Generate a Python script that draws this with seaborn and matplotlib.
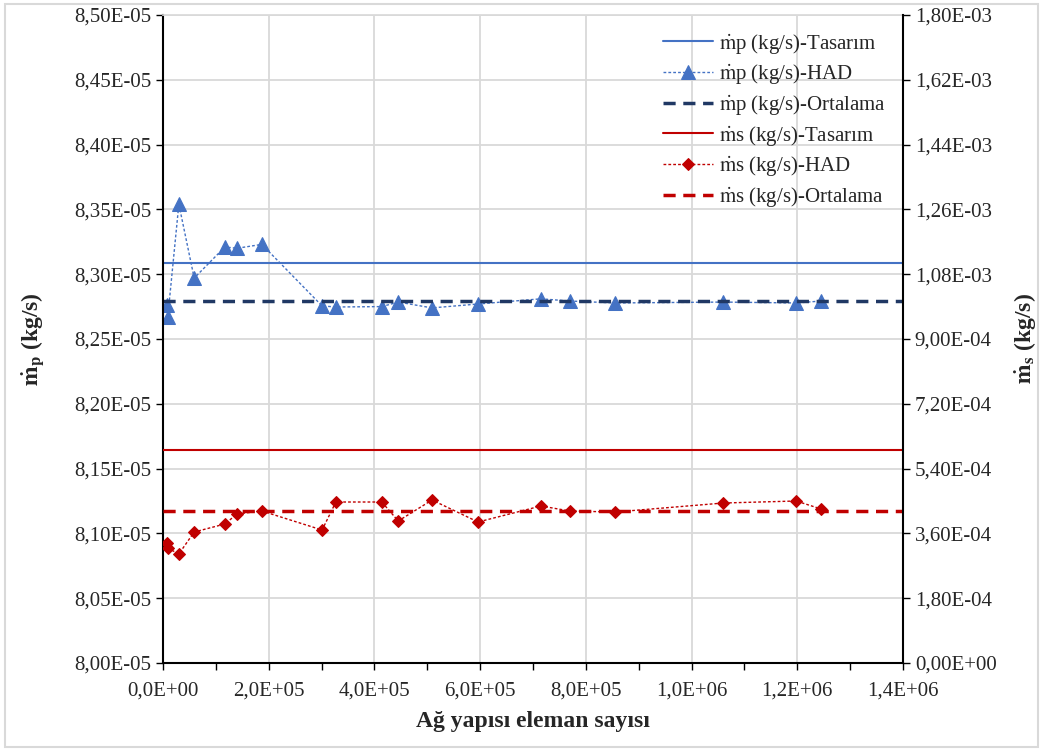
import matplotlib
matplotlib.use("Agg")
import matplotlib.pyplot as plt
import seaborn as sns
from matplotlib.ticker import MultipleLocator, FuncFormatter
from matplotlib.patches import Rectangle

# element counts (x) shared by both CFD series
eleman_sayisi = [7000, 9000, 30000, 59000, 117000, 140000, 187000, 301000, 327000,
                 414000, 445000, 509000, 596000, 715000, 770000, 855000,
                 1060000, 1198000, 1245000]
# primary mass flow, CFD (kg/s)
mp_had = [8.2765e-5, 8.267e-5, 8.354e-5, 8.297e-5, 8.321e-5, 8.320e-5, 8.323e-5,
          8.2755e-5, 8.2747e-5, 8.275e-5, 8.2785e-5, 8.274e-5, 8.277e-5,
          8.281e-5, 8.2793e-5, 8.2778e-5, 8.2785e-5, 8.2778e-5, 8.2793e-5]
# secondary mass flow, CFD (kg/s)
ms_had = [3.333e-4, 3.194e-4, 3.028e-4, 3.639e-4, 3.861e-4, 4.139e-4, 4.222e-4,
          3.694e-4, 4.472e-4, 4.472e-4, 3.944e-4, 4.528e-4, 3.917e-4,
          4.361e-4, 4.222e-4, 4.194e-4, 4.444e-4, 4.500e-4, 4.278e-4]
mp_tasarim = 8.309e-5
mp_ortalama = 8.279e-5
ms_tasarim = 5.92e-4
ms_ortalama = 4.22e-4

labels = [r"$\dot{\mathrm{m}}$p (kg/s)-Tasarım",
          r"$\dot{\mathrm{m}}$p (kg/s)-HAD",
          r"$\dot{\mathrm{m}}$p (kg/s)-Ortalama",
          r"$\dot{\mathrm{m}}$s (kg/s)-Tasarım",
          r"$\dot{\mathrm{m}}$s (kg/s)-HAD",
          r"$\dot{\mathrm{m}}$s (kg/s)-Ortalama"]

sns.set_theme(style="white")
plt.rcParams['font.family'] = ['Liberation Serif', 'DejaVu Serif']
plt.rcParams['mathtext.fontset'] = 'stix'

BLUE = '#4472C4'
NAVY = '#203864'
RED = '#C00000'
GRID = '#D9D9D9'

fig = plt.figure(figsize=(10.43, 7.51), dpi=100)
ax = fig.add_axes([163/1043, 88/751, 740/1043, 648/751])
ax2 = ax.twinx()

# left axis - primary flow
ax.axhline(mp_tasarim, color=BLUE, lw=1.5, label=labels[0])
sns.lineplot(x=eleman_sayisi, y=mp_had, ax=ax, color=BLUE, lw=1,
             linestyle=(0, (2, 1.5)), marker='^', markersize=9.5,
             markeredgecolor=BLUE, markerfacecolor=BLUE, sort=False, label=labels[1])
ax.axhline(mp_ortalama, color=NAVY, lw=2.5, linestyle=(0, (3.5, 2.2)), label=labels[2])

# right axis - secondary flow
ax2.axhline(ms_tasarim, color=RED, lw=1.5, label=labels[3])
sns.lineplot(x=eleman_sayisi, y=ms_had, ax=ax2, color=RED, lw=1,
             linestyle=(0, (2, 1.5)), marker='D', markersize=6.5,
             markeredgecolor=RED, markerfacecolor=RED, sort=False, label=labels[4])
ax2.axhline(ms_ortalama, color=RED, lw=2.5, linestyle=(0, (3.5, 2.2)), label=labels[5])

for a in (ax, ax2):
    if a.get_legend() is not None:
        a.get_legend().remove()

ax.set_xlim(0, 1.4e6)
ax.set_ylim(8.0e-5, 8.5e-5)
ax2.set_ylim(0, 1.8e-3)
ax.xaxis.set_major_locator(MultipleLocator(2e5))
ax.xaxis.set_minor_locator(MultipleLocator(1e5))
ax.yaxis.set_major_locator(MultipleLocator(5e-7))
ax2.yaxis.set_major_locator(MultipleLocator(1.8e-4))
ax.xaxis.set_major_formatter(FuncFormatter(lambda v, p: f"{v:.1E}".replace('.', ',')))
ax.yaxis.set_major_formatter(FuncFormatter(lambda v, p: f"{v:.2E}".replace('.', ',')))
ax2.yaxis.set_major_formatter(FuncFormatter(lambda v, p: f"{abs(v):.2E}".replace('.', ',')))

ax.grid(True, which='major', color=GRID, lw=1.3)
ax2.grid(False)
ax.set_axisbelow(True)

for s in ('left', 'bottom'):
    ax.spines[s].set_color('black')
    ax.spines[s].set_linewidth(1.5)
ax.spines['top'].set_color(GRID)
ax.spines['right'].set_visible(False)
ax2.spines['right'].set_color('black')
ax2.spines['right'].set_linewidth(1.5)
for s in ('left', 'bottom', 'top'):
    ax2.spines[s].set_visible(False)

ax.tick_params(axis='both', which='both', direction='out', length=5, width=1,
               color='black', labelsize=15, bottom=True, left=True)
ax.tick_params(axis='x', pad=8)
ax2.tick_params(axis='y', direction='out', length=5, width=1, color='black',
                labelsize=15, right=True)

ax.set_xlabel("Ağ yapısı eleman sayısı", fontsize=17, fontweight='bold', labelpad=8)
ax.set_ylabel(r"$\mathbf{\dot{m}_p}$ (kg/s)", fontsize=17, fontweight='bold', labelpad=20)
ax2.set_ylabel(r"$\mathbf{\dot{m}_s}$ (kg/s)", fontsize=17, fontweight='bold', labelpad=11)

h1, lab1 = ax.get_legend_handles_labels()
h2, lab2 = ax2.get_legend_handles_labels()
ax2.legend(h1 + h2, lab1 + lab2, loc='upper right', frameon=False, fontsize=15,
           handlelength=2.4, labelspacing=0.32, handletextpad=0.3, borderaxespad=0.4)

fig.add_artist(Rectangle((0.005, 0.005), 0.99, 0.99, transform=fig.transFigure,
                         fill=False, edgecolor=GRID, lw=1.5))

fig.savefig("out.png", dpi=100, facecolor='white')
